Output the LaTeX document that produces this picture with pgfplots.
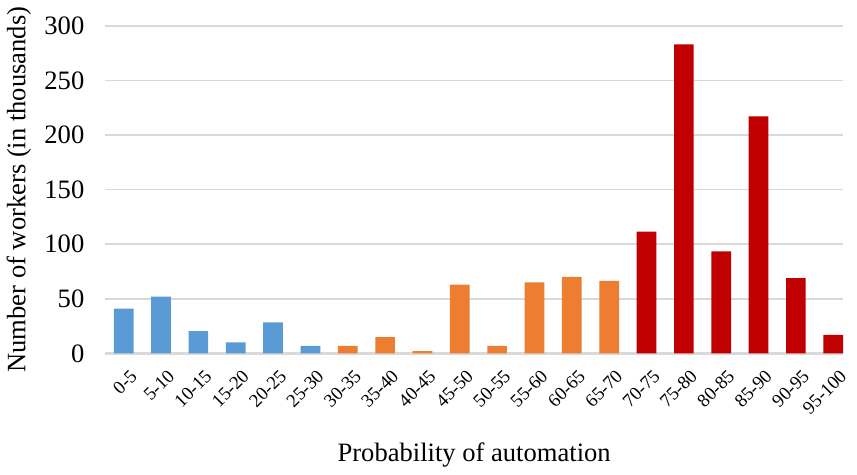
\documentclass[border=0pt]{standalone}
\usepackage{fontspec}
\setmainfont{Liberation Serif}
\usepackage{pgfplots}
\pgfplotsset{compat=1.18}
\definecolor{lowblue}{HTML}{5B9BD5}
\definecolor{midorange}{HTML}{ED7D31}
\definecolor{highred}{HTML}{C00000}
\definecolor{gridgrey}{HTML}{D9D9D9}
\begin{document}
\begin{tikzpicture}
\begin{axis}[
	scale only axis,
	width=375pt, height=166.4pt,
	xmin=-0.5, xmax=19.27,
	ymin=0, ymax=300,
	ytick={0,50,...,300},
	xtick={0,...,19},
	xticklabels={0-5,5-10,10-15,15-20,20-25,25-30,30-35,35-40,40-45,45-50,50-55,55-60,60-65,65-70,70-75,75-80,80-85,85-90,90-95,95-100},
	ybar, bar width=10pt, bar shift=0pt,
	ymajorgrids,
	grid style={draw=gridgrey, line width=0.8pt},
	axis x line*=bottom, axis y line*=left,
	y axis line style={draw=none},
	x axis line style={draw=gridgrey, line width=1.5pt},
	major tick length=0pt,
	/pgf/number format/assume math mode=true,
	yticklabel style={font=\fontsize{13.5}{16}\selectfont, xshift=-7pt},
	xticklabel style={font=\fontsize{9.5}{11}\selectfont, rotate=45, anchor=north east, yshift=-4pt},
	xlabel={Probability of automation},
	ylabel={Number of workers (in thousands)},
	label style={font=\fontsize{13.5}{16}\selectfont},
	xlabel style={yshift=-6pt},
]
\addplot[fill=lowblue, draw=none] coordinates {(0,41) (1,52) (2,20.5) (3,10) (4,28.5) (5,7)};
\addplot[fill=midorange, draw=none] coordinates {(6,7) (7,15) (8,2) (9,63) (10,7) (11,65) (12,70) (13,66.5)};
\addplot[fill=highred, draw=none] coordinates {(14,111.5) (15,283) (16,93.5) (17,217) (18,69) (19,17)};
\end{axis}
\end{tikzpicture}
\end{document}
